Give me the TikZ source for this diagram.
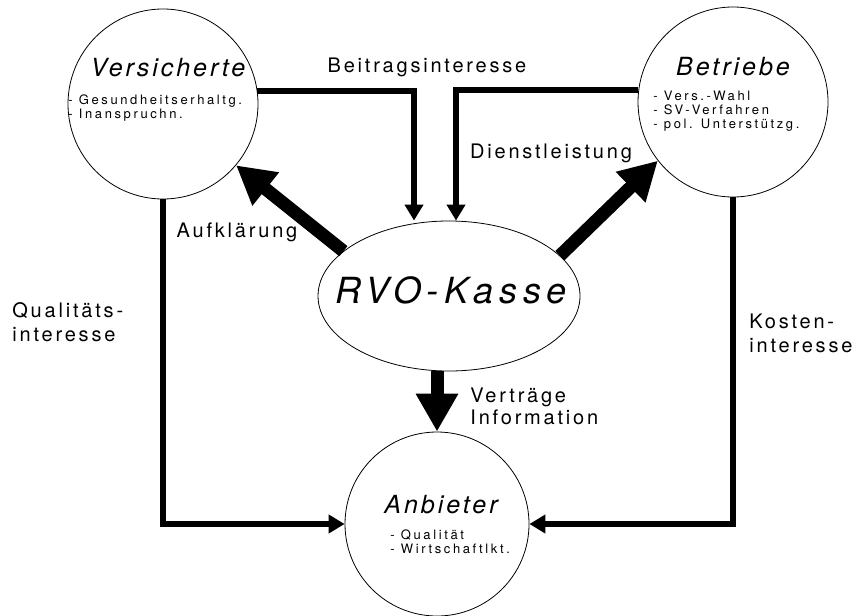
\documentclass[tikz,border=0pt]{standalone}
\usepackage{fontspec}
\setmainfont{TeX Gyre Heros}
\newfontfamily\labelfont[LetterSpace=14]{TeX Gyre Heros}
\newfontfamily\titlefont[LetterSpace=12]{TeX Gyre Heros}
\newfontfamily\kassefont[LetterSpace=16]{TeX Gyre Heros}
\newfontfamily\listfont[LetterSpace=20]{TeX Gyre Heros}
\usetikzlibrary{shapes.geometric, arrows.meta}

\tikzset{
    party/.style={draw, circle, line width=0.4pt, minimum size=95pt, inner sep=0pt},
    partytitle/.style={font=\titlefont\itshape\fontsize{12.5}{14}\selectfont, inner sep=0pt},
    partylist/.style={font=\listfont\fontsize{6.5}{7}\selectfont, align=left, anchor=north west, inner sep=0pt},
    flowlabel/.style={font=\labelfont\fontsize{10}{12}\selectfont, inner sep=0pt},
    thinflow/.style={line width=3pt, -{Triangle[length=8pt, width=9pt]}},
    thickflow/.style={line width=6.5pt, -{Triangle[length=19pt, width=20pt]}},
}

\begin{document}
\begin{tikzpicture}[x=0.5pt, y=-0.5pt]
        \useasboundingbox (0,0) rectangle (865,615);

        % draw the circles
        \node[party] (versicherte) at (163,104) {};
        \node[party] (betriebe) at (733,102) {};
        \node[party, minimum size=92pt] (anbieter) at (437,524) {};
        \node[draw, ellipse, line width=0.4pt, minimum width=131pt, minimum height=75pt, inner sep=0pt] (rvo) at (449,296) {};

        % draw the names
        \node[partytitle] (vtitle) at (168,68) {Versicherte};
        \node[partytitle] (btitle) at (733,67) {Betriebe};
        \node[partytitle] (atitle) at (441,505) {Anbieter};
        \node[font=\kassefont\itshape\fontsize{18}{20}\selectfont, inner sep=0pt] (rvotext) at (451,290) {RVO-Kasse};

        % draw the lists
        \node[partylist] (vlist) at (68,94) {- Gesundheitserhaltg.\\- Inanspruchn.};
        \node[partylist] (blist) at (653,91) {- Vers.-Wahl\\- SV-Verfahren\\- pol. Unterstützg.};
        \node[partylist] (alist) at (390,529) {- Qualität\\- Wirtschaftlkt.};

        % draw the thin arrows
        \draw[thinflow] (versicherte.8) -| ([xshift=-17.5pt]rvo.north);
        \draw[thinflow] (betriebe.173) -| ([xshift=3.5pt]rvo.north);
        \draw[thinflow] (versicherte.south) |- (anbieter.west);
        \draw[thinflow] (betriebe.south) |- (anbieter.east);

        % draw the thick arrows
        \draw[thickflow] (rvo.157) -- (versicherte.320);
        \draw[thickflow] (rvo.20) -- (betriebe.218);
        \draw[thickflow] (rvo.south -| anbieter.north) -- (anbieter.north);

        % draw the labels
        \node[flowlabel] (beitrag) at (427,67) {Beitragsinteresse};
        \node[flowlabel] (dienst) at (551,153) {Dienstleistung};
        \node[flowlabel] (aufkl) at (237,232) {Aufklärung};
        \node[flowlabel, font=\labelfont\fontsize{10}{11}\selectfont, align=left, anchor=north west] (vertr) at (470,388) {Verträge\\Information};
        \node[flowlabel, align=left, anchor=west] (qual) at (12,322) {Qualitäts-\\interesse};
        \node[flowlabel, align=left, anchor=west] (kosten) at (749,333) {Kosten-\\interesse};
    \end{tikzpicture}
\end{document}
